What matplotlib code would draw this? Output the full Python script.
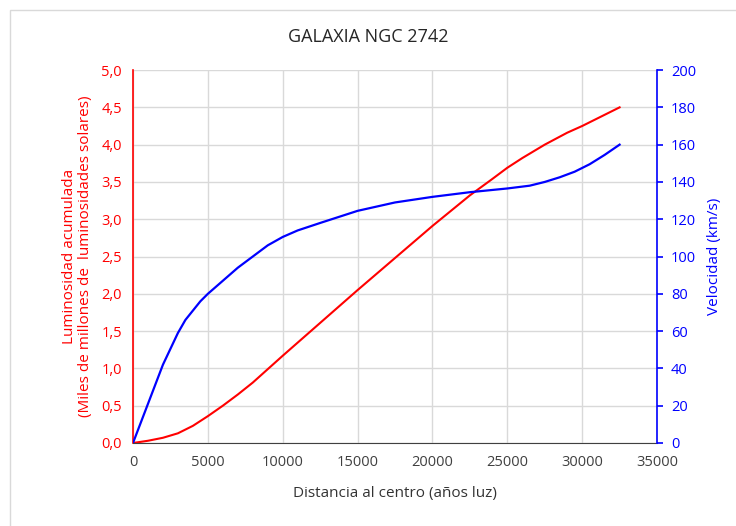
import matplotlib.pyplot as plt
from matplotlib.patches import Rectangle
from matplotlib.ticker import FuncFormatter

plt.rcParams['font.family'] = ['Open Sans', 'DejaVu Sans']

# datos
dist_lum = [0, 1000, 2000, 3000, 4000, 5000, 6000, 7000, 8000, 9000, 10000,
            12500, 15000, 17500, 20000, 22500, 24000, 25000, 26000, 27500,
            29000, 30000, 31000, 32500]
luminosidad = [0, 0.03, 0.07, 0.13, 0.23, 0.36, 0.50, 0.65, 0.81, 0.99, 1.17,
               1.61, 2.05, 2.48, 2.91, 3.32, 3.54, 3.69, 3.82, 4.00,
               4.16, 4.25, 4.35, 4.50]
dist_vel = [0, 1000, 2000, 3000, 3500, 4000, 4500, 5000, 6000, 7000, 8000,
            9000, 10000, 11000, 12500, 15000, 17500, 20000, 22500, 25000,
            26500, 27500, 28500, 29500, 30500, 31500, 32500]
velocidad = [0, 21, 42, 59, 66, 71, 76, 80, 87, 94, 100,
             106, 110.5, 114, 118, 124.5, 129, 132, 134.5, 136.5,
             138, 140, 142.5, 145.5, 149.5, 154.5, 160]

fig = plt.figure(figsize=(7.36, 5.26), dpi=100)
ax = fig.add_axes([0.1807, 0.1578, 0.712, 0.709])
ax2 = ax.twinx()

ax.plot(dist_lum, luminosidad, color='#ff0000', lw=1.5, zorder=3)
ax2.plot(dist_vel, velocidad, color='#0000ff', lw=1.6, zorder=3)

ax.set_xlim(0, 35000)
ax.set_ylim(0, 5)
ax2.set_ylim(0, 200)
ax.set_xticks(range(0, 35001, 5000))
ax.set_yticks([i * 0.5 for i in range(11)])
ax2.set_yticks(range(0, 201, 20))
ax.yaxis.set_major_formatter(FuncFormatter(lambda v, p: f'{v:.1f}'.replace('.', ',')))

ax.grid(True, color='#d9d9d9', lw=1)
ax.set_axisbelow(True)

for a in (ax, ax2):
    a.spines['top'].set_visible(False)
ax.spines['right'].set_visible(False)
ax2.spines['left'].set_visible(False)
ax2.spines['bottom'].set_visible(False)
ax.spines['left'].set_color('#ff0000')
ax.spines['bottom'].set_color('#404040')
ax2.spines['right'].set_color('#0000ff')
ax.spines['left'].set_linewidth(1.2)
ax2.spines['right'].set_linewidth(1.2)

ax.tick_params(axis='y', colors='#ff0000', length=0, labelsize=10.5, pad=8)
ax.tick_params(axis='x', colors='#404040', length=0, labelsize=10.5, pad=9)
ax2.tick_params(axis='y', colors='#0000ff', length=4, width=1.2, labelsize=10.5, pad=6)

ax.set_xlabel('Distancia al centro (años luz)', fontsize=11, color='#333333', labelpad=11)
ax.set_ylabel('Luminosidad acumulada\n(Miles de millones de  luminosidades solares)',
              fontsize=11, color='#ff0000', labelpad=6, linespacing=1.1)
ax2.set_ylabel('Velocidad (km/s)', fontsize=11, color='#0000ff', labelpad=8)

fig.text(0.5, 0.93, 'GALAXIA NGC 2742', ha='center', va='center', fontsize=13, color='#262626')

fig.patches.append(Rectangle((10 / 736, -0.1), 1.2, 1 - 10 / 526 + 0.1, transform=fig.transFigure,
                             fill=False, edgecolor='#d9d9d9', lw=1))

fig.savefig('out.png', dpi=100)
